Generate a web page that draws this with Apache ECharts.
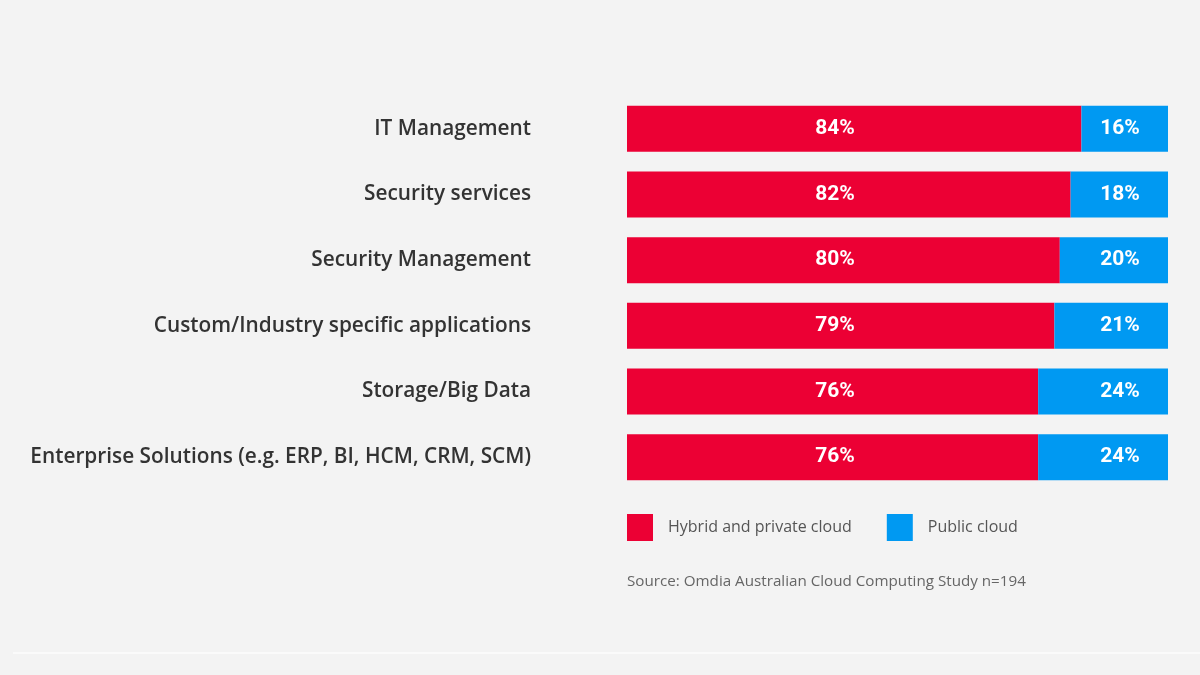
<!DOCTYPE html>
<html>
<head>
<meta charset="utf-8">
<script src="https://cdn.jsdelivr.net/npm/echarts@6/dist/echarts.min.js"></script>
<style>
html,body{margin:0;padding:0;background:#f3f3f3;}
#chart{width:1200px;height:675px;}
</style>
</head>
<body>
<div id="chart"></div>
<script>
const categories = [
  "IT Management",
  "Security services",
  "Security Management",
  "Custom/Industry specific applications",
  "Storage/Big Data",
  "Enterprise Solutions (e.g. ERP, BI, HCM, CRM, SCM)"
];
const hybridPrivate = [84, 82, 80, 79, 76, 76];
const publicCloud = [16, 18, 20, 21, 24, 24];
const seriesNames = ["Hybrid and private cloud", "Public cloud"];
const sourceText = "Source: Omdia Australian Cloud Computing Study n=194";

const chart = echarts.init(document.getElementById('chart'));
const baseLabel = {
  show: true,
  color: '#ffffff',
  fontFamily: 'Roboto',
  fontWeight: 'bold',
  fontSize: 21,
  align: 'center',
  verticalAlign: 'middle',
  formatter: p => p.value + '%'
};
chart.setOption({
  backgroundColor: '#f3f3f3',
  animation: false,
  grid: { left: 627, right: 32, top: 96, height: 394 },
  xAxis: { type: 'value', min: 0, max: 100, show: false },
  yAxis: {
    type: 'category',
    data: categories,
    inverse: true,
    axisLine: { show: false },
    axisTick: { show: false },
    axisLabel: {
      margin: 96,
      color: '#333333',
      fontFamily: 'Open Sans',
      fontWeight: 600,
      fontSize: 20.8
    }
  },
  legend: {
    left: 627,
    top: 514,
    padding: 0,
    itemWidth: 26,
    itemHeight: 27,
    itemGap: 35,
    icon: 'rect',
    textStyle: { color: '#555555', fontFamily: 'Open Sans', fontSize: 16, padding: [0, 0, 0, 10] },
    data: seriesNames
  },
  series: [
    {
      name: seriesNames[0],
      type: 'bar',
      stack: 'total',
      data: hybridPrivate,
      barWidth: 46,
      itemStyle: { color: '#ec0034' },
      label: Object.assign({}, baseLabel, { position: [208, '50%'] })
    },
    {
      name: seriesNames[1],
      type: 'bar',
      stack: 'total',
      data: publicCloud,
      barWidth: 46,
      itemStyle: { color: '#0099f2' },
      label: Object.assign({}, baseLabel, { position: ['100%', '50%'], offset: [-48, 0] })
    }
  ],
  graphic: [
    {
      type: 'text',
      left: 627,
      top: 574,
      style: { text: sourceText, fill: '#666666', font: '15.2px "Open Sans"' }
    },
    {
      type: 'rect',
      shape: { x: 13, y: 652, width: 1187, height: 2 },
      style: { fill: '#fafafa' }
    }
  ]
});
</script>
</body>
</html>
